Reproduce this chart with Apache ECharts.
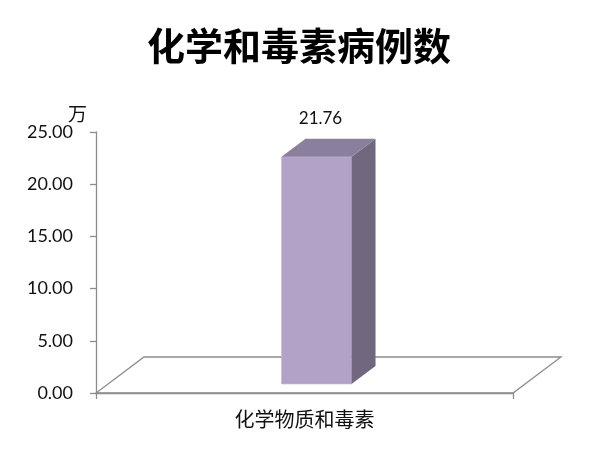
<!DOCTYPE html>
<html><head><meta charset="utf-8">
<script src="https://cdn.jsdelivr.net/npm/echarts@6/dist/echarts.min.js"></script>
<style>html,body{margin:0;padding:0;background:#fff}#c{width:598px;height:450px}</style>
</head><body><div id="c"></div>
<script>
const titleText = '化学和毒素病例数';
const categories = ['化学物质和毒素'];
const values = [21.76];
const yUnit = '万';
const yMin = 0, yMax = 25, yInterval = 5;

const FONT = 'Lato, "Noto Sans CJK SC", sans-serif';
const CJK = '"Noto Sans CJK SC", sans-serif';
const LINE = '#8c8c8c';
const DEPTH_X = 48, DEPTH_Y = -36;
const chart = echarts.init(document.getElementById('c'));

function floorItem(params, api) {
  const c = api.coord([api.value(0), 0]);
  const bw = api.size([1, 0])[0];
  const x0 = c[0] - bw / 2, x1 = c[0] + bw / 2, y = c[1];
  return {
    type: 'polygon',
    shape: { points: [[x0, y], [x1, y], [x1 + DEPTH_X, y + DEPTH_Y], [x0 + DEPTH_X, y + DEPTH_Y]] },
    style: { fill: 'none', stroke: LINE, lineWidth: 1.3 }
  };
}

function barItem(params, api) {
  const cat = api.value(0), v = api.value(1);
  const base = api.coord([cat, 0]);
  const top = api.coord([cat, v]);
  const bw = api.size([1, 0])[0];
  const w = bw * 0.168;
  const ox = DEPTH_X / 4, oy = DEPTH_Y / 4;
  const dx = DEPTH_X / 2, dy = DEPTH_Y / 2;
  const xl = base[0] + ox - w / 2, xr = base[0] + ox + w / 2;
  const yb = base[1] + oy, yt = top[1] + oy;
  return {
    type: 'group',
    children: [
      { type: 'polygon', shape: { points: [[xl, yt], [xr, yt], [xr, yb], [xl, yb]] },
        style: { fill: '#b3a2c7', stroke: '#c9bcd9', lineWidth: 0.6 } },
      { type: 'polygon', shape: { points: [[xr, yt], [xr + dx, yt + dy], [xr + dx, yb + dy], [xr, yb]] },
        style: { fill: '#71687f' } },
      { type: 'polygon', shape: { points: [[xl, yt], [xr, yt], [xr + dx, yt + dy], [xl + dx, yt + dy]] },
        style: { fill: '#8a7f9c' } },
      { type: 'text', style: { text: v.toFixed(2), x: base[0] + ox + 4, y: yt - 38,
        align: 'center', verticalAlign: 'middle', font: '17px ' + FONT, fill: '#111' } }
    ]
  };
}

chart.setOption({
  animation: false,
  title: {
    text: titleText, left: 'center', top: 22,
    textStyle: { fontSize: 38, fontWeight: 'bold', fontFamily: CJK, color: '#000' }
  },
  grid: { left: 96, right: 85, top: 132, bottom: 57 },
  xAxis: {
    type: 'category', data: categories,
    axisLine: { lineStyle: { color: LINE, width: 1.3 } },
    axisTick: { show: true, length: 6, lineStyle: { color: LINE, width: 1.3 } },
    axisLabel: { fontSize: 20, fontFamily: CJK, color: '#111', margin: 16 }
  },
  yAxis: {
    type: 'value', min: yMin, max: yMax, interval: yInterval,
    name: yUnit, nameLocation: 'end', nameGap: 5,
    nameTextStyle: { fontSize: 19, fontFamily: CJK, color: '#111', align: 'right', padding: [0, 9, 0, 0] },
    axisLine: { show: true, lineStyle: { color: LINE, width: 1.3 } },
    axisTick: { show: true, length: 6, lineStyle: { color: LINE, width: 1.3 } },
    splitLine: { show: false },
    axisLabel: { fontSize: 18, fontFamily: FONT, color: '#111', margin: 23,
      formatter: v => v.toFixed(2) }
  },
  series: [
    { type: 'custom', renderItem: floorItem, data: categories.map((c, i) => [i]), z: 1, silent: true },
    { type: 'custom', renderItem: barItem, data: values.map((v, i) => [i, v]), z: 2 }
  ]
});
</script></body></html>
